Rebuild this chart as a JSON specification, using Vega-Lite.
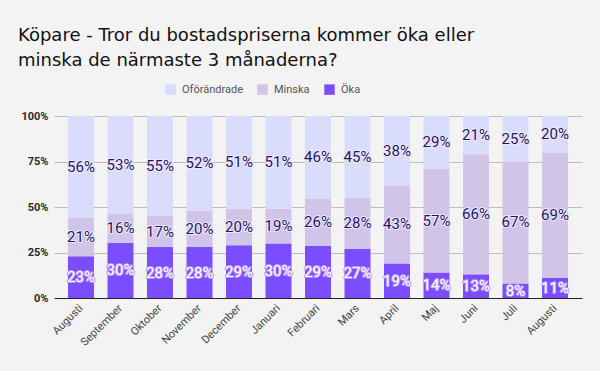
{
  "$schema": "https://vega.github.io/schema/vega-lite/v6.json",
  "width": 528,
  "height": 182,
  "autosize": {"type": "none"},
  "padding": {"left": 54, "top": 116, "right": 18, "bottom": 73},
  "background": "#f3f3f3",
  "title": {
    "text": ["Köpare - Tror du bostadspriserna kommer öka eller", "minska de närmaste 3 månaderna?"],
    "anchor": "start",
    "frame": "group",
    "dx": -36,
    "font": "DejaVu Sans",
    "fontSize": 18,
    "fontWeight": "normal",
    "color": "#111111",
    "lineHeight": 25,
    "baseline": "alphabetic",
    "offset": 0,
    "dy": 0
  },
  "config": {
    "view": {"stroke": null},
    "font": "Roboto"
  },
  "data": {
    "values": [
      {"month": "Augusti", "serie": "Öka", "value": 23},
      {"month": "Augusti", "serie": "Minska", "value": 21},
      {"month": "Augusti", "serie": "Oförändrade", "value": 56},
      {"month": "September", "serie": "Öka", "value": 30},
      {"month": "September", "serie": "Minska", "value": 16},
      {"month": "September", "serie": "Oförändrade", "value": 53},
      {"month": "Oktober", "serie": "Öka", "value": 28},
      {"month": "Oktober", "serie": "Minska", "value": 17},
      {"month": "Oktober", "serie": "Oförändrade", "value": 55},
      {"month": "November", "serie": "Öka", "value": 28},
      {"month": "November", "serie": "Minska", "value": 20},
      {"month": "November", "serie": "Oförändrade", "value": 52},
      {"month": "December", "serie": "Öka", "value": 29},
      {"month": "December", "serie": "Minska", "value": 20},
      {"month": "December", "serie": "Oförändrade", "value": 51},
      {"month": "Januari", "serie": "Öka", "value": 30},
      {"month": "Januari", "serie": "Minska", "value": 19},
      {"month": "Januari", "serie": "Oförändrade", "value": 51},
      {"month": "Februari", "serie": "Öka", "value": 29},
      {"month": "Februari", "serie": "Minska", "value": 26},
      {"month": "Februari", "serie": "Oförändrade", "value": 46},
      {"month": "Mars", "serie": "Öka", "value": 27},
      {"month": "Mars", "serie": "Minska", "value": 28},
      {"month": "Mars", "serie": "Oförändrade", "value": 45},
      {"month": "April", "serie": "Öka", "value": 19},
      {"month": "April", "serie": "Minska", "value": 43},
      {"month": "April", "serie": "Oförändrade", "value": 38},
      {"month": "Maj", "serie": "Öka", "value": 14},
      {"month": "Maj", "serie": "Minska", "value": 57},
      {"month": "Maj", "serie": "Oförändrade", "value": 29},
      {"month": "Juni", "serie": "Öka", "value": 13},
      {"month": "Juni", "serie": "Minska", "value": 66},
      {"month": "Juni", "serie": "Oförändrade", "value": 21},
      {"month": "Juli", "serie": "Öka", "value": 8},
      {"month": "Juli", "serie": "Minska", "value": 67},
      {"month": "Juli", "serie": "Oförändrade", "value": 25},
      {"month": "Augusti\u200b", "serie": "Öka", "value": 11},
      {"month": "Augusti\u200b", "serie": "Minska", "value": 69},
      {"month": "Augusti\u200b", "serie": "Oförändrade", "value": 20}
    ]
  },
  "transform": [
    {"calculate": "indexof(['Öka','Minska','Oförändrade'], datum.serie)", "as": "ord"},
    {"stack": "value", "groupby": ["month"], "sort": [{"field": "ord", "order": "ascending"}], "offset": "normalize", "as": ["y0", "y1"]},
    {"calculate": "(datum.y0 + datum.y1) / 2", "as": "ymid"},
    {"calculate": "datum.value + '%'", "as": "label"}
  ],
  "encoding": {
    "x": {
      "field": "month",
      "type": "nominal",
      "sort": null,
      "scale": {"paddingInner": 0.342, "paddingOuter": 0.354},
      "axis": {
        "title": null,
        "labelAngle": -45,
        "labelAlign": "right",
        "labelBaseline": "top",
        "labelFont": "Roboto",
        "labelFontSize": 11,
        "labelColor": "#444444",
        "labelPadding": 4,
        "labelOffset": -4,
        "ticks": false,
        "domainColor": "#222222",
        "domainWidth": 1.2,
        "grid": false
      }
    }
  },
  "layer": [
    {
      "mark": {"type": "bar"},
      "encoding": {
        "y": {
          "field": "y0",
          "type": "quantitative",
          "scale": {"domain": [0, 1], "nice": false},
          "axis": {
            "title": null,
            "values": [0, 0.25, 0.5, 0.75, 1],
            "format": ".0%",
            "labelFont": "Roboto",
            "labelFontSize": 11,
            "labelFontWeight": "bold",
            "labelColor": "#2a2a2a",
            "labelPadding": 6,
            "ticks": false,
            "domain": false,
            "gridColor": "#bdbdbd",
            "gridWidth": 1
          }
        },
        "y2": {"field": "y1"},
        "color": {
          "field": "serie",
          "type": "nominal",
          "scale": {"domain": ["Oförändrade", "Minska", "Öka"], "range": ["#dadcfc", "#d1c4e9", "#7c4dff"]},
          "legend": {
            "title": null,
            "orient": "none",
            "direction": "horizontal",
            "legendX": 111,
            "legendY": -32,
            "symbolType": "square",
            "symbolSize": 110,
            "symbolStrokeWidth": 0,
            "labelFont": "Roboto",
            "labelFontSize": 11,
            "labelColor": "#555555",
            "columnPadding": 14,
            "labelOffset": 6
          }
        }
      }
    },
    {
      "mark": {"type": "text", "fontSize": 15, "font": "Roboto", "strokeWidth": 2, "strokeJoin": "round", "baseline": "middle"},
      "encoding": {
        "y": {"field": "ymid", "type": "quantitative"},
        "text": {"field": "label"},
        "stroke": {
          "condition": {"test": "datum.serie === 'Öka'", "value": "#b394ff"},
          "value": "#efeaff"
        },
        "fill": {
          "condition": {"test": "datum.serie === 'Öka'", "value": "#b394ff"},
          "value": "#efeaff"
        }
      }
    },
    {
      "mark": {"type": "text", "fontSize": 15, "font": "Roboto", "baseline": "middle"},
      "encoding": {
        "y": {"field": "ymid", "type": "quantitative"},
        "text": {"field": "label"},
        "color": {
          "condition": {"test": "datum.serie === 'Öka'", "value": "#ffffff"},
          "value": "#1f1460"
        }
      }
    }
  ]
}
